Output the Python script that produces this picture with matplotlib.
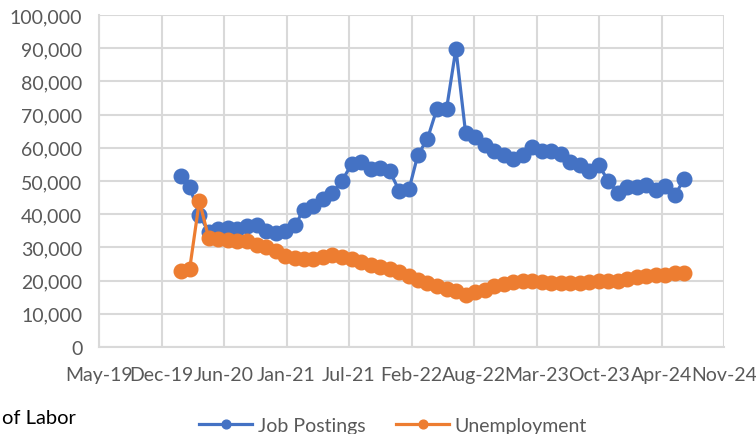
import datetime as dt
import pandas as pd
import matplotlib
matplotlib.use("Agg")
import matplotlib.pyplot as plt
import matplotlib.dates as mdates
from matplotlib.ticker import FuncFormatter, MultipleLocator

plt.rcParams['font.family'] = ['Lato', 'DejaVu Sans']

# monthly observations, Feb 2020 - Jul 2024
months = pd.date_range('2020-02-01', '2024-07-01', freq='MS')

job_postings = [51.5, 48.2, 39.8, 34.6, 35.5, 35.8, 35.5, 36.3, 36.8, 35.0,
                34.4, 35.0, 36.6, 41.4, 42.6, 44.6, 46.4, 50.0, 55.0, 55.8,
                53.6, 53.8, 53.0, 47.0, 47.5, 57.8, 62.7, 71.7, 71.7, 89.8,
                64.5, 63.4, 60.8, 59.0, 57.8, 56.6, 57.8, 60.3, 59.0, 59.0,
                58.0, 55.7, 54.8, 53.0, 54.8, 50.0, 46.4, 48.2, 48.2, 48.8,
                47.3, 48.6, 45.8, 50.6]
unemployment = [23.0, 23.5, 44.0, 32.8, 32.5, 32.2, 31.9, 32.0, 30.7, 30.0,
                28.8, 27.4, 26.8, 26.6, 26.5, 27.0, 27.6, 27.1, 26.5, 25.6,
                24.7, 24.1, 23.5, 22.6, 21.4, 20.2, 19.3, 18.4, 17.5, 16.9,
                15.7, 16.6, 17.2, 18.4, 19.0, 19.7, 20.0, 20.0, 19.6, 19.3,
                19.3, 19.3, 19.3, 19.5, 19.9, 19.9, 19.9, 20.5, 21.0, 21.4,
                21.6, 21.6, 22.3, 22.3]
job_postings = [v * 1000 for v in job_postings]
unemployment = [v * 1000 for v in unemployment]

# excel style date axis: start mid May 2019, major unit 200 days
axis_start = dt.date(2019, 5, 16)
tick_dates = [axis_start + dt.timedelta(days=200 * i) for i in range(11)]

fig = plt.figure(figsize=(7.56, 4.35), dpi=100)
ax = fig.add_axes([0.131, 0.2, 0.8267, 0.7632])

ax.plot(months, job_postings, color='#4472C4', lw=2.3, marker='o', ms=10.5,
        label='Job Postings', zorder=3)
ax.plot(months, unemployment, color='#ED7D31', lw=2.3, marker='o', ms=10.5,
        label='Unemployment', zorder=3)

ax.set_xlim(tick_dates[0], tick_dates[-1])
ax.set_ylim(0, 100000)
ax.set_xticks(tick_dates)
ax.xaxis.set_major_formatter(mdates.DateFormatter('%b-%y'))
ax.yaxis.set_major_locator(MultipleLocator(10000))
ax.yaxis.set_major_formatter(FuncFormatter(lambda v, p: f'{int(v):,}'))

ax.grid(True, color='#D9D9D9', lw=1.5)
ax.set_axisbelow(True)
for s in ['top', 'right']:
    ax.spines[s].set_visible(False)
for s in ['left', 'bottom']:
    ax.spines[s].set_color('#D9D9D9')
    ax.spines[s].set_linewidth(1.5)
ax.tick_params(length=0, labelsize=14, labelcolor='#595959')
ax.tick_params(axis='x', pad=14)
ax.tick_params(axis='y', pad=12)

fig.legend(loc='center', bbox_to_anchor=(0.52, 0.02), ncol=2, frameon=False,
           fontsize=14, labelcolor='#595959', handlelength=2.7,
           handletextpad=0.3, columnspacing=1.6, markerscale=0.6)
fig.text(0.003, 0.038, 'of Labor', fontsize=14.5, color='black', va='center')

fig.savefig('out.png', dpi=100)
